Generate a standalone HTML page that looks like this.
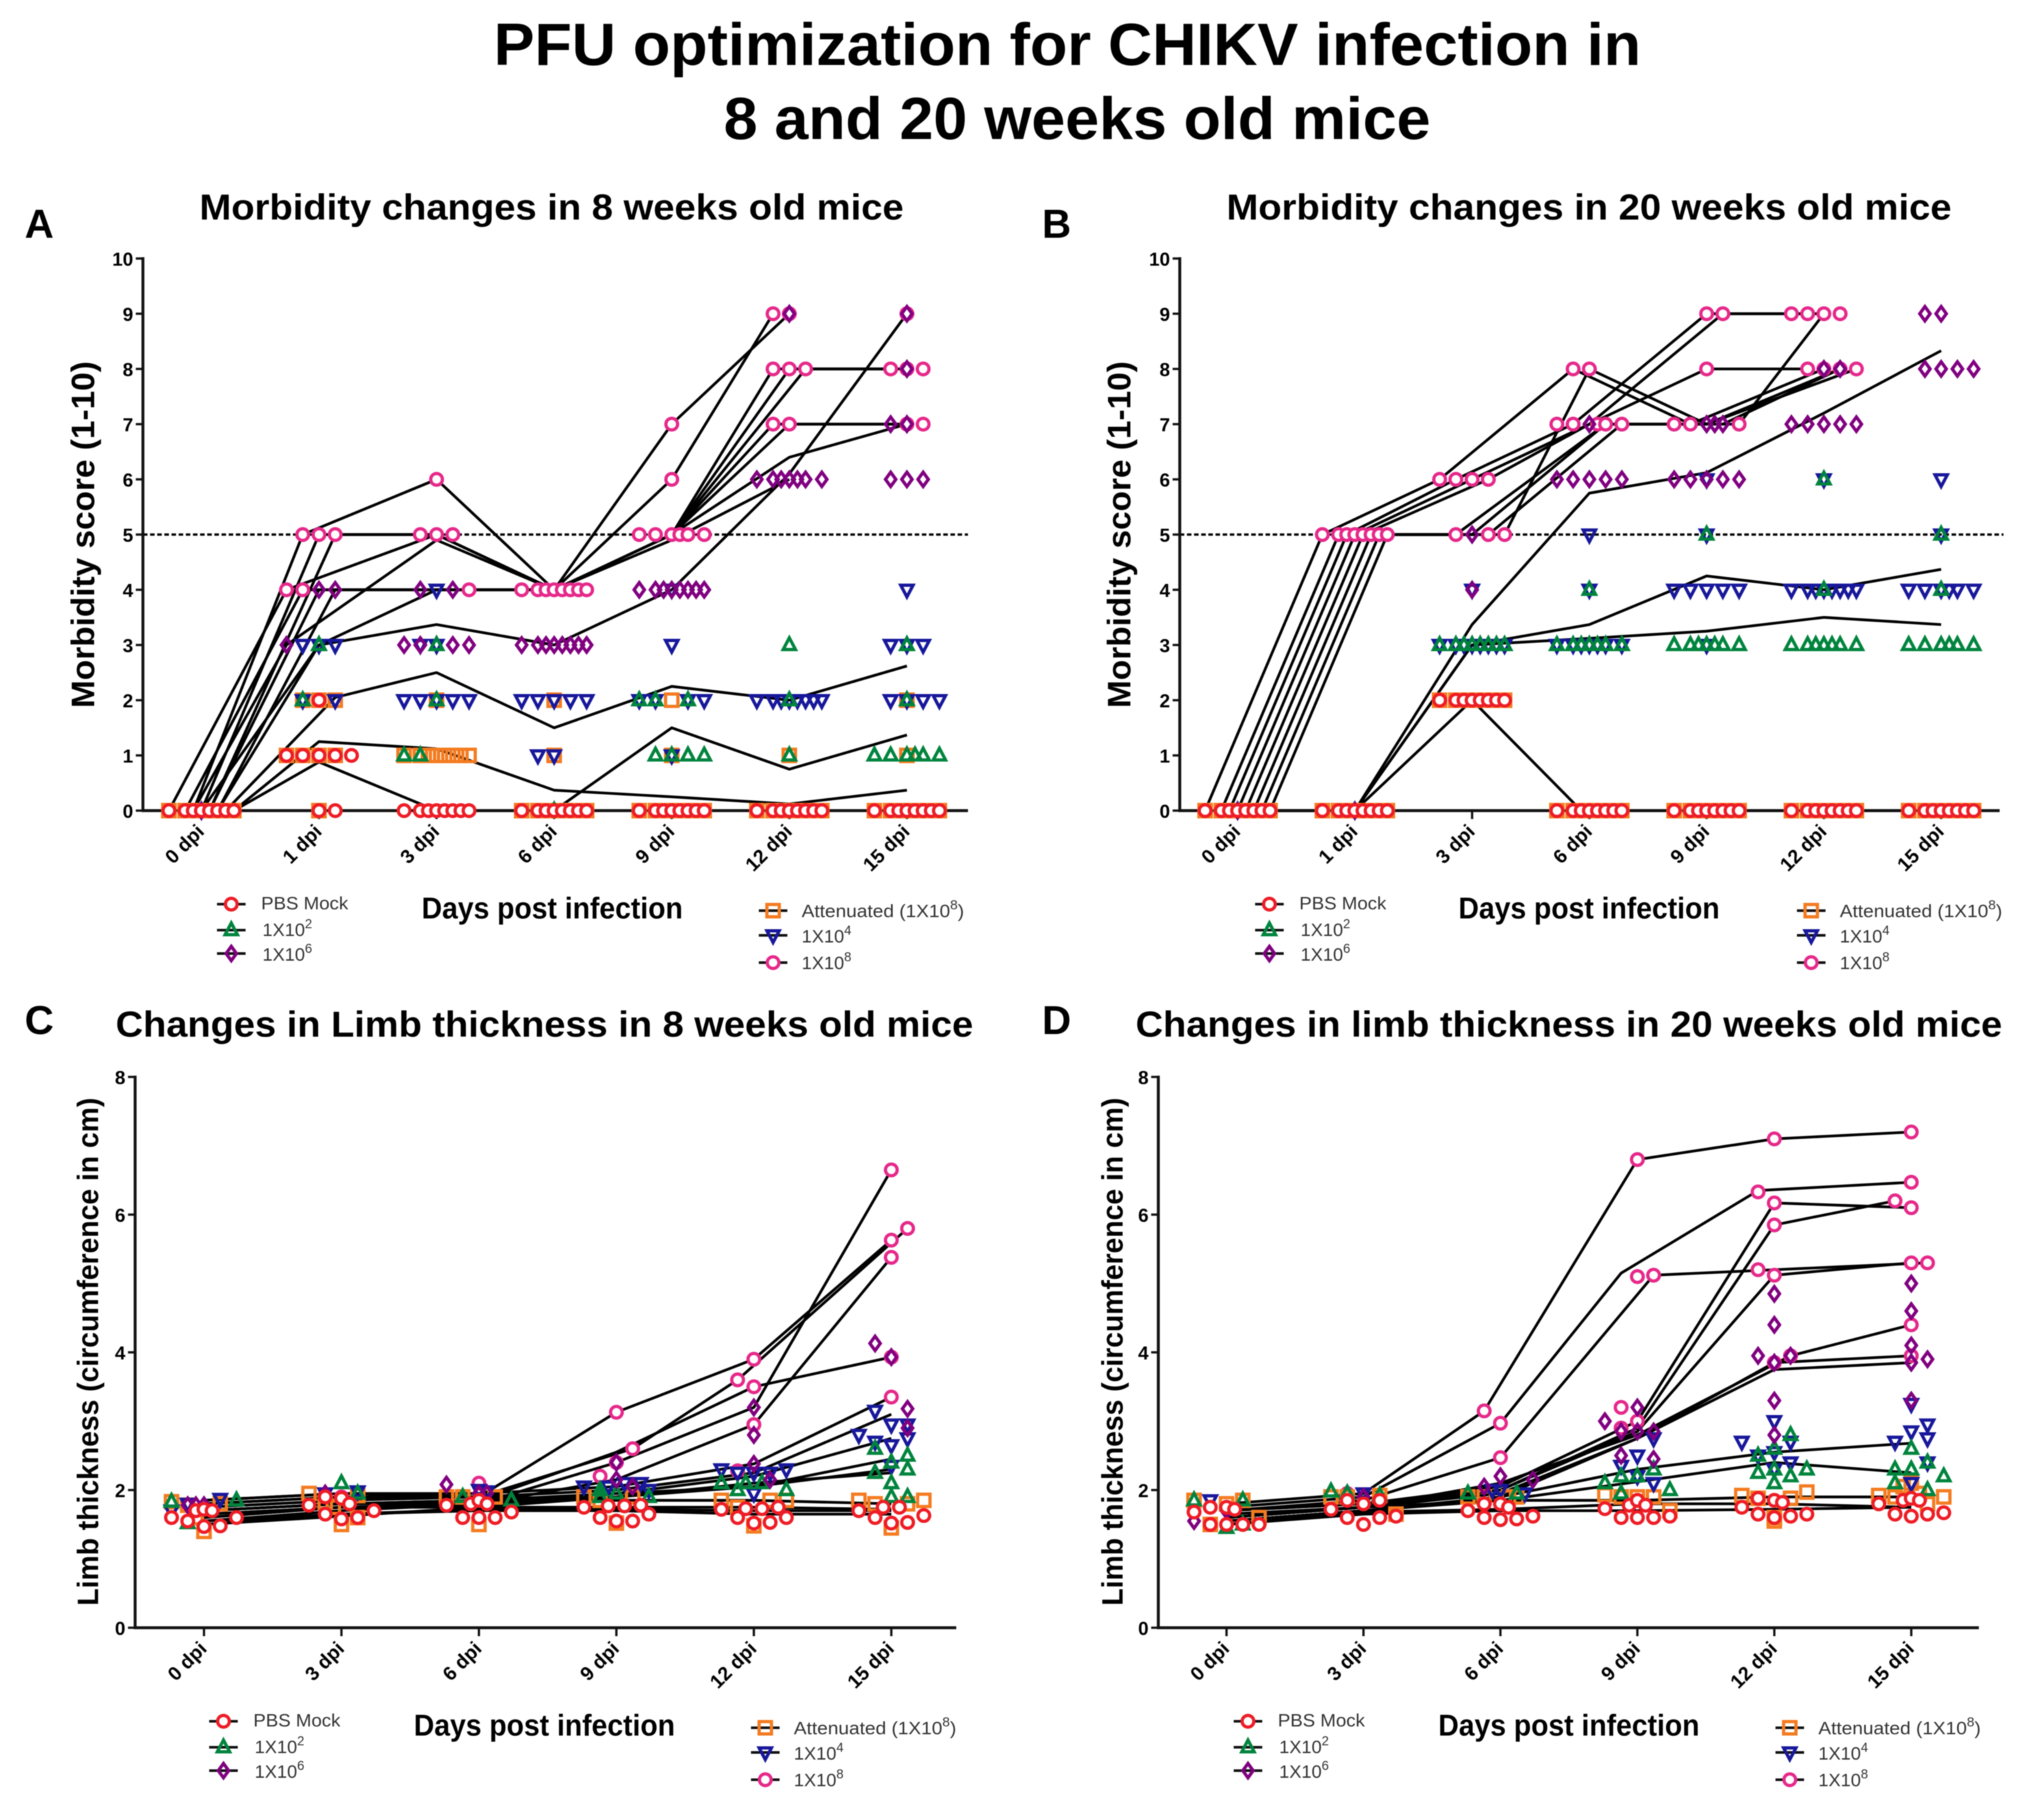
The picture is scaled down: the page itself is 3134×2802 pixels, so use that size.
<!DOCTYPE html>
<html lang="en">
<head>
<meta charset="utf-8">
<title>PFU optimization for CHIKV infection</title>
<style>
html,body{margin:0;padding:0;background:#fff;}
svg{display:block;filter:blur(0.8px);font-family:"Liberation Sans",sans-serif;}
.main{font-weight:700;font-size:92px;fill:#000;}
.sub{font-weight:700;font-size:56px;fill:#000;}
.letter{font-weight:700;font-size:62px;fill:#000;}
.ytitle{font-weight:700;font-size:50px;fill:#000;}
.xtitle{font-weight:700;font-size:46px;fill:#000;}
.leg{font-size:28px;fill:#333;}
.sup{font-size:20px;}
</style>
</head>
<body>
<svg id="figure" xmlns="http://www.w3.org/2000/svg" width="3134" height="2802" viewBox="0 0 3134 2802">
<defs>
<g id="mk-circle"><line x1="-22" x2="22" y1="0" y2="0" stroke="#111" stroke-width="4"/><circle r="9" fill="#fff" stroke="#EE1C25" stroke-width="5"/></g>
<g id="mk-tri"><line x1="-22" x2="22" y1="0" y2="0" stroke="#111" stroke-width="4"/><polygon points="0,-11 9.5,7 -9.5,7" fill="none" stroke="#00843D" stroke-width="5"/></g>
<g id="mk-diamond"><line x1="-22" x2="22" y1="0" y2="0" stroke="#111" stroke-width="4"/><polygon points="0,-11 8,0 0,11 -8,0" fill="none" stroke="#800080" stroke-width="5"/></g>
<g id="mk-square"><line x1="-22" x2="22" y1="0" y2="0" stroke="#111" stroke-width="4"/><rect x="-9.5" y="-9.5" width="19" height="19" fill="none" stroke="#F47B20" stroke-width="5"/></g>
<g id="mk-inv"><line x1="-22" x2="22" y1="0" y2="0" stroke="#111" stroke-width="4"/><polygon points="0,11 9.5,-7 -9.5,-7" fill="none" stroke="#17179B" stroke-width="5"/></g>
<g id="mk-pink"><line x1="-22" x2="22" y1="0" y2="0" stroke="#111" stroke-width="4"/><circle r="9" fill="#fff" stroke="#E6288A" stroke-width="5"/></g>
</defs>

<text class="main" x="760" y="100" textLength="1766" lengthAdjust="spacingAndGlyphs">PFU optimization for CHIKV infection in</text>
<text class="main" x="1114" y="214" textLength="1088" lengthAdjust="spacingAndGlyphs">8 and 20 weeks old mice</text>

<text class="letter" x="38" y="366">A</text>
<text class="letter" x="1604" y="366">B</text>
<text class="letter" x="38" y="1592">C</text>
<text class="letter" x="1604" y="1592">D</text>

<text class="sub" x="307" y="338" textLength="1084" lengthAdjust="spacingAndGlyphs">Morbidity changes in 8 weeks old mice</text>
<text class="sub" x="1888" y="338" textLength="1116" lengthAdjust="spacingAndGlyphs">Morbidity changes in 20 weeks old mice</text>
<text class="sub" x="178" y="1596" textLength="1320" lengthAdjust="spacingAndGlyphs">Changes in Limb thickness in 8 weeks old mice</text>
<text class="sub" x="1748" y="1596" textLength="1334" lengthAdjust="spacingAndGlyphs">Changes in limb thickness in 20 weeks old mice</text>

<text class="ytitle" transform="translate(145,1090) rotate(-90)" textLength="534" lengthAdjust="spacingAndGlyphs">Morbidity score (1-10)</text>
<text class="ytitle" transform="translate(1740,1090) rotate(-90)" textLength="534" lengthAdjust="spacingAndGlyphs">Morbidity score (1-10)</text>
<text class="ytitle" style="font-size:45px" transform="translate(151,2472) rotate(-90)" textLength="782" lengthAdjust="spacingAndGlyphs">Limb thickness (circumference in cm)</text>
<text class="ytitle" style="font-size:45px" transform="translate(1728,2472) rotate(-90)" textLength="782" lengthAdjust="spacingAndGlyphs">Limb thickness (circumference in cm)</text>

<text class="xtitle" x="649" y="1414" textLength="402" lengthAdjust="spacingAndGlyphs">Days post infection</text>
<text class="xtitle" x="2245" y="1414" textLength="402" lengthAdjust="spacingAndGlyphs">Days post infection</text>
<text class="xtitle" x="637" y="2672" textLength="402" lengthAdjust="spacingAndGlyphs">Days post infection</text>
<text class="xtitle" x="2214" y="2672" textLength="402" lengthAdjust="spacingAndGlyphs">Days post infection</text>

<g>
<g><use href="#mk-circle" x="356" y="1392"/><text class="leg" x="402" y="1400" textLength="134" lengthAdjust="spacingAndGlyphs">PBS Mock</text></g>
<g><use href="#mk-tri" x="356" y="1432"/><text class="leg" x="404" y="1441">1X10<tspan class="sup" dy="-12">2</tspan></text></g>
<g><use href="#mk-diamond" x="356" y="1468"/><text class="leg" x="404" y="1479">1X10<tspan class="sup" dy="-12">6</tspan></text></g>
<g><use href="#mk-square" x="1190" y="1402"/><text class="leg" x="1234" y="1412" textLength="250" lengthAdjust="spacingAndGlyphs">Attenuated (1X10<tspan class="sup" dy="-12">8</tspan><tspan dy="12">)</tspan></text></g>
<g><use href="#mk-inv" x="1190" y="1440"/><text class="leg" x="1234" y="1451">1X10<tspan class="sup" dy="-12">4</tspan></text></g>
<g><use href="#mk-pink" x="1190" y="1482"/><text class="leg" x="1234" y="1492">1X10<tspan class="sup" dy="-12">8</tspan></text></g>
</g>
<g transform="translate(1598,0)">
<g><use href="#mk-circle" x="356" y="1392"/><text class="leg" x="402" y="1400" textLength="134" lengthAdjust="spacingAndGlyphs">PBS Mock</text></g>
<g><use href="#mk-tri" x="356" y="1432"/><text class="leg" x="404" y="1441">1X10<tspan class="sup" dy="-12">2</tspan></text></g>
<g><use href="#mk-diamond" x="356" y="1468"/><text class="leg" x="404" y="1479">1X10<tspan class="sup" dy="-12">6</tspan></text></g>
<g><use href="#mk-square" x="1190" y="1402"/><text class="leg" x="1234" y="1412" textLength="250" lengthAdjust="spacingAndGlyphs">Attenuated (1X10<tspan class="sup" dy="-12">8</tspan><tspan dy="12">)</tspan></text></g>
<g><use href="#mk-inv" x="1190" y="1440"/><text class="leg" x="1234" y="1451">1X10<tspan class="sup" dy="-12">4</tspan></text></g>
<g><use href="#mk-pink" x="1190" y="1482"/><text class="leg" x="1234" y="1492">1X10<tspan class="sup" dy="-12">8</tspan></text></g>
</g>
<g transform="translate(-12,1258)">
<g><use href="#mk-circle" x="356" y="1392"/><text class="leg" x="402" y="1400" textLength="134" lengthAdjust="spacingAndGlyphs">PBS Mock</text></g>
<g><use href="#mk-tri" x="356" y="1432"/><text class="leg" x="404" y="1441">1X10<tspan class="sup" dy="-12">2</tspan></text></g>
<g><use href="#mk-diamond" x="356" y="1468"/><text class="leg" x="404" y="1479">1X10<tspan class="sup" dy="-12">6</tspan></text></g>
<g><use href="#mk-square" x="1190" y="1402"/><text class="leg" x="1234" y="1412" textLength="250" lengthAdjust="spacingAndGlyphs">Attenuated (1X10<tspan class="sup" dy="-12">8</tspan><tspan dy="12">)</tspan></text></g>
<g><use href="#mk-inv" x="1190" y="1440"/><text class="leg" x="1234" y="1451">1X10<tspan class="sup" dy="-12">4</tspan></text></g>
<g><use href="#mk-pink" x="1190" y="1482"/><text class="leg" x="1234" y="1492">1X10<tspan class="sup" dy="-12">8</tspan></text></g>
</g>
<g transform="translate(1565,1258)">
<g><use href="#mk-circle" x="356" y="1392"/><text class="leg" x="402" y="1400" textLength="134" lengthAdjust="spacingAndGlyphs">PBS Mock</text></g>
<g><use href="#mk-tri" x="356" y="1432"/><text class="leg" x="404" y="1441">1X10<tspan class="sup" dy="-12">2</tspan></text></g>
<g><use href="#mk-diamond" x="356" y="1468"/><text class="leg" x="404" y="1479">1X10<tspan class="sup" dy="-12">6</tspan></text></g>
<g><use href="#mk-square" x="1190" y="1402"/><text class="leg" x="1234" y="1412" textLength="250" lengthAdjust="spacingAndGlyphs">Attenuated (1X10<tspan class="sup" dy="-12">8</tspan><tspan dy="12">)</tspan></text></g>
<g><use href="#mk-inv" x="1190" y="1440"/><text class="leg" x="1234" y="1451">1X10<tspan class="sup" dy="-12">4</tspan></text></g>
<g><use href="#mk-pink" x="1190" y="1482"/><text class="leg" x="1234" y="1492">1X10<tspan class="sup" dy="-12">8</tspan></text></g>
</g>
</svg>

<script>
/* ---------- tick labels ---------- */
const morbidityDays = ['0 dpi','1 dpi','3 dpi','6 dpi','9 dpi','12 dpi','15 dpi'];
const limbDays = ['0 dpi','3 dpi','6 dpi','9 dpi','12 dpi','15 dpi'];
const morbidityTicks = [0,1,2,3,4,5,6,7,8,9,10];
const limbTicks = [0,2,4,6,8];
const thresholdScore = 5;

/* ---------- data: one entry per day; each row = [value, jitter column...] ---------- */
const A_mock = [
 [[0,-2,-1,-.5,0,.5,1,1.5,2]],
 [[0,0,1],[1,-2,-1,0,1,2],[2,0]],
 [[0,-2,-1,-.5,0,.5,1,1.5,2]],
 [[0,-2,-1,-.5,0,.5,1,1.5,2]],
 [[0,-2,-1,-.5,0,.5,1,1.5,2]],
 [[0,-2,-1,-.5,0,.5,1,1.5,2]],
 [[0,-2,-1,-.5,0,.5,1,1.5,2]]];
const A_attenuated = [
 [[0,-2,-1,-.5,0,.5,1,1.5,2]],
 [[0,0],[1,-2,-1,0,1],[2,-1,0,1]],
 [[1,-2,-1,-.5,0,.5,1,1.5,2],[2,0]],
 [[0,-2,-1,0,1,2],[1,0],[2,0]],
 [[0,-2,-1,0,1,2],[2,0],[1,0]],
 [[0,-2,-1,-.5,0,.5,1,1.5,2],[1,0]],
 [[0,-2,-1,0,1,2],[1,0],[2,0]]];
const A_1e2 = [
 [[0,0]],
 [[3,0],[2,-1]],
 [[3,0],[2,0],[1,-2,-1]],
 [[0,0]],
 [[2,-2,-1,1],[1,-1,0,1,2]],
 [[3,0],[2,0],[1,0]],
 [[3,0],[1,-2,-1,0,.5,1,2],[2,0]]];
const A_1e4 = [
 [[0,0]],
 [[3,-1,0,1],[2,-1,1]],
 [[4,0],[3,-1,0],[2,-2,-1,0,1,2]],
 [[2,-2,-1,0,1,2],[1,-1,0]],
 [[4,0],[3,0],[2,-2,-1,1,2],[1,0]],
 [[2,-2,-1,-.5,0,.5,1,1.5,2]],
 [[4,0],[3,-1,0,1],[2,-1,0,1,2]]];
const A_1e6 = [
 [[0,0]],
 [[4,0,1],[3,-2]],
 [[4,-1,1],[3,-2,-1,1,2]],
 [[3,-2,-1,-.5,0,.5,1,1.5,2]],
 [[4,-2,-1,-.5,0,.5,1,1.5,2]],
 [[9,0],[6,-2,-1,-.5,0,.5,1,2]],
 [[9,0],[8,0],[7,-1,0],[6,-1,0,1]]];
const A_1e8 = [
 [[0,0]],
 [[5,-1,0,1],[4,-2,-1]],
 [[6,0],[5,-1,0,1],[4,2]],
 [[4,-2,-1,-.5,0,.5,1,1.5,2]],
 [[7,0],[6,0],[5,-2,-1,0,.5,1,2]],
 [[9,-1,0],[8,-1,0,1],[7,-1,0]],
 [[9,0],[8,-1,0,1],[7,0,1]]];
/* connecting lines: values per day, with the jitter column at each day */
const A_lineValues = [
 [0,.88,0,0,1.5,.75,1.37],
 [0,1.25,1.12,.37,.25,.12,.37],
 [0,2.05,2.5,1.5,2.25,2,2.62],
 [0,3,3.37,3,4,6.1,9],
 [0,5,6,4,7,9,null],
 [0,5,5,4,6,9,null],
 [0,5,5,4,5,8,8],
 [0,4,5,4,5,8,8],
 [0,4,4,4,5,8,8],
 [0,4,4,4,5,7,7],
 [0,4,4,4,5,7,7],
 [0,3,4.9,4,5,6.4,7],
 [0,3,4,4,4.9,6,null]];
const A_lineSlots = [
 [2,0,0,0,0,0,0],[2,0,0,0,0,0,0],[1.5,1,0,0,0,0,0],[1,0,0,0,0,0,0],
 [-.5,-1,0,0,0,0,0],[0,0,0,0,0,-1,0],[.5,1,0,0,0,-1,-1],[-2,-2,0,0,0,0,-1],
 [-1,-1,0,0,0,1,0],[.5,0,0,0,0,-1,0],[1,1,0,0,0,0,0],[-.5,-2,0,0,0,0,0],[0,0,0,0,0,0,0]];

const B_mock = [
 [[0,-2,-1,-.5,0,.5,1,1.5,2]],
 [[0,-2,-1,-.5,0,.5,1,1.5,2]],
 [[2,-2,-1,-.5,0,.5,1,1.5,2]],
 [[0,-2,-1,-.5,0,.5,1,1.5,2]],
 [[0,-2,-1,-.5,0,.5,1,1.5,2]],
 [[0,-2,-1,-.5,0,.5,1,1.5,2]],
 [[0,-2,-1,-.5,0,.5,1,1.5,2]]];
const B_attenuated = [
 [[0,-2,-1,-.5,0,.5,1,1.5,2]],
 [[0,-2,-1,-.5,0,.5,1,1.5,2]],
 [[2,-2,-1,-.5,0,.5,1,1.5,2]],
 [[0,-2,-1,-.5,0,.5,1,1.5,2]],
 [[0,-2,-1,-.5,0,.5,1,1.5,2]],
 [[0,-2,-1,-.5,0,.5,1,1.5,2]],
 [[0,-2,-1,-.5,0,.5,1,1.5,2]]];
const B_1e2 = [
 [[0,0]],
 [[0,0]],
 [[3,-2,-1,-.5,0,.5,1,1.5,2]],
 [[4,0],[3,-2,-1,-.5,0,.5,1,2]],
 [[5,0],[3,-2,-1,-.5,0,.5,1,2]],
 [[6,0],[4,0],[3,-2,-1,-.5,0,.5,1,2]],
 [[5,0],[4,0],[3,-2,-1,0,.5,1,2]]];
const B_1e4 = [
 [[0,0]],
 [[0,0]],
 [[4,0],[3,-2,-1,-.5,0,.5,1,1.5,2]],
 [[5,0],[4,0],[3,-2,-1,-.5,0,.5,1,2]],
 [[6,0],[5,0],[4,-2,-1,0,1,2],[3,0]],
 [[6,0],[4,-2,-1,-.5,0,.5,1,1.5,2]],
 [[6,0],[5,0],[4,-2,-1,0,.5,1,2]]];
const B_1e6 = [
 [[0,0]],
 [[0,0]],
 [[5,0],[4,0]],
 [[7,0],[6,-2,-1,0,1,2]],
 [[7,0,.5,1],[6,-2,-1,0,1,2]],
 [[8,0,1],[7,-2,-1,0,1,2]],
 [[9,-1,0],[8,-1,0,1,2]]];
const B_1e8 = [
 [[0,0]],
 [[5,-2,-1,-.5,0,.5,1,1.5,2]],
 [[6,-2,-1,0,1],[5,-1,1,2]],
 [[8,-1,0],[7,-2,-1,.5,1,2]],
 [[9,0,1],[8,0],[7,-2,-1,2]],
 [[9,-2,-1,0,1],[8,-1,0,1,2]],
 [[0,0]]];
const B_lineValues = [
 [0,5,6,8,7,8,null],
 [0,5,5,8,7,8,null],
 [0,5,6,7,9,9,null],
 [0,5,6,7,9,9,null],
 [0,5,6,7,8,8,null],
 [0,5,5,7,7,9,null],
 [0,5,5,7,7,8,null],
 [0,5,5,7,7,8,null],
 [0,0,3.37,5.75,6.12,7.2,8.33],
 [0,0,3,3.37,4.25,4,4.37],
 [0,0,3,3.12,3.25,3.5,3.37],
 [0,0,2,0,0,0,0]];
const B_lineSlots = [
 [-2,-2,-2,-1,-1,0,0],
 [-1,-1,2,0,0,1,0],
 [-.5,-.5,-1,-1,0,-1,0],
 [0,0,0,0,1,0,0],
 [.5,.5,1,0,0,-1,0],
 [1,1,-1,1,2,0,0],
 [1.5,1.5,0,1,1,1,0],
 [2,2,1,2,0,2,0],
 [0,0,0,0,0,0,0],[0,0,0,0,0,0,0],[0,0,0,0,0,0,0],[0,0,0,-.5,0,0,0]];

const C_mock = [
 [[1.6,-2],[1.55,-1],[1.7,-.5],[1.47,0],[1.72,0],[1.7,.5],[1.48,1],[1.6,2]],
 [[1.78,-2],[1.65,-1],[1.9,-1],[1.58,0],[1.88,0],[1.8,.5],[1.6,1],[1.7,2]],
 [[1.78,-2],[1.6,-1],[1.8,-.5],[1.6,0],[1.85,0],[1.8,.5],[1.6,1],[1.68,2]],
 [[1.75,-2],[1.6,-1],[1.77,-.5],[1.55,0],[1.77,.5],[1.55,1],[1.78,1.5],[1.65,2]],
 [[1.72,-2],[1.6,-1],[1.73,-.5],[1.52,0],[1.73,.5],[1.53,1],[1.75,1.5],[1.6,2]],
 [[1.7,-2],[1.6,-1],[1.75,-.5],[1.52,0],[1.75,.5],[1.53,1],[1.63,2]]];
const C_attenuated = [
 [[1.83,-2],[1.78,-1],[1.6,-.5],[1.4,0],[1.8,1]],
 [[1.95,-2],[1.82,-1],[1.75,-.5],[1.5,0],[1.92,1],[1.6,1]],
 [[1.9,-2],[1.9,-1],[1.5,0],[1.9,1]],
 [[1.9,-2],[1.85,-1],[1.52,0],[1.9,1]],
 [[1.85,-2],[1.75,-1],[1.48,0],[1.85,1],[1.85,2]],
 [[1.85,-2],[1.8,-1],[1.45,0],[1.8,1],[1.85,2]]];
const C_1e2 = [
 [[1.83,-2],[1.52,-1],[1.85,2]],
 [[2.1,0],[1.95,1]],
 [[1.9,-1],[1.85,2]],
 [[2,-1],[1.9,-1],[1.95,0],[1.9,2]],
 [[2.1,-2],[2,-1],[2.1,-.5],[2.1,.5],[2,2]],
 [[2.6,-1],[2.25,-1],[2.4,0],[2.1,0],[1.9,0],[2.3,1],[2.5,1],[1.9,1]]];
const C_1e4 = [
 [[1.8,-1],[1.87,1],[1.7,-2]],
 [[1.95,-1],[1.98,1]],
 [[2,0],[1.98,.5]],
 [[2.05,-2],[2.05,-.5],[2.1,.5],[2.1,1.5],[2,2]],
 [[2.3,-2],[2.25,-1],[2.25,0],[2.25,1],[2.3,2],[1.95,0]],
 [[3.15,-1],[2.8,-2],[2.7,-1],[2.95,0],[2.65,0],[2.95,1],[2.75,1],[2.35,0]]];
const C_1e6 = [
 [[1.78,-1],[1.78,-.5],[1.78,0]],
 [[1.95,-1]],
 [[2.08,-2],[1.95,0],[1.95,.5]],
 [[2.4,0],[2.15,0],[2.05,1]],
 [[3.2,0],[2.8,0],[2.38,0],[2.15,1]],
 [[4.13,-1],[3.93,0],[3.18,1],[2.9,1]]];
const C_1e8 = [
 [],
 [[1.9,0]],
 [[2.1,0]],
 [[3.13,0],[2.6,1],[2.2,-1],[2.4,0]],
 [[3.9,0],[3.6,-1],[3.5,0],[2.95,0],[2.28,-1]],
 [[6.65,0],[5.8,1],[5.63,0],[5.38,0],[3.93,0],[3.35,0]]];
const C_lineValues = [
 [1.8,1.9,1.9,3.13,3.9,5.63],
 [1.75,1.85,1.9,2.6,3.6,5.8],
 [1.7,1.8,1.85,2.55,3.5,3.93],
 [1.7,1.8,1.8,2.4,3.2,6.65],
 [1.65,1.75,1.8,2.15,2.95,5.38],
 [1.85,1.95,1.95,2.05,2.38,3.35],
 [1.8,1.9,1.9,2,2.25,3.1],
 [1.7,1.8,1.85,1.95,2.2,2.75],
 [1.6,1.75,1.8,1.95,2.05,2.45],
 [1.55,1.7,1.8,1.9,2.05,2.3],
 [1.6,1.75,1.75,1.9,2.1,2.25],
 [1.85,1.95,1.9,1.85,1.85,1.8],
 [1.5,1.65,1.72,1.72,1.7,1.7],
 [1.5,1.62,1.75,1.75,1.75,1.72],
 [1.55,1.65,1.7,1.7,1.65,1.65]];
const C_lineSlots = [
 [],[0,0,0,1,-1,1],[],[],[],[],[],[],[],[],[],[],[],[],[]];

const D_mock = [
 [[1.68,-2],[1.75,-1],[1.5,-1],[1.5,0],[1.75,0],[1.72,.5],[1.5,1],[1.5,2]],
 [[1.72,-2],[1.6,-1],[1.85,-1],[1.5,0],[1.8,0],[1.6,1],[1.85,1],[1.62,2]],
 [[1.7,-2],[1.6,-1],[1.8,-1],[1.57,0],[1.8,0],[1.75,.5],[1.58,1],[1.62,2]],
 [[1.73,-2],[1.6,-1],[1.78,-.5],[1.6,0],[1.85,0],[1.78,.5],[1.6,1],[1.62,2]],
 [[1.75,-2],[1.65,-1],[1.88,-1],[1.6,0],[1.85,0],[1.82,.5],[1.62,1],[1.65,2]],
 [[1.8,-2],[1.65,-1],[1.85,-.5],[1.62,0],[1.88,0],[1.85,.5],[1.65,1],[1.67,2]]];
const D_attenuated = [
 [[1.85,-2],[1.5,-1],[1.8,0],[1.85,1],[1.6,2]],
 [[1.9,-2],[1.9,-1],[1.92,1],[1.65,2]],
 [[1.9,-2],[1.9,-1],[1.9,.5],[1.9,1]],
 [[1.93,-2],[1.9,-1],[1.9,0],[1.9,1],[1.7,2]],
 [[1.92,-2],[1.88,-1],[1.6,0],[1.55,0],[1.88,1],[1.97,2]],
 [[1.92,-2],[1.9,-1],[2.05,-.5],[2.1,0],[1.95,.5],[1.8,1],[1.9,2]]];
const D_1e2 = [
 [[1.85,-2],[1.45,0],[1.85,1],[1.5,1]],
 [[1.98,-2],[1.95,-1],[1.92,1]],
 [[1.95,-2],[1.95,1]],
 [[2.1,-2],[2.2,-1],[1.95,-1],[2.2,0],[2.3,1],[2,2]],
 [[2.25,-1],[2.5,-1],[2.6,0],[2.3,0],[2.1,0],[2.8,1],[2.2,1],[2.3,2]],
 [[2.3,-1],[2.1,-1],[2.6,0],[2.3,0],[2.4,1],[2,1],[2.2,2]]];
const D_1e4 = [
 [[1.85,-1]],
 [[1.95,0]],
 [[2,-.5],[2,0],[1.95,1.5]],
 [[2.35,-1],[2.5,0],[2.2,0],[2.75,1],[2.1,1]],
 [[2.7,-2],[2.5,-1],[3,0],[2.55,0],[2.3,0],[2.7,1],[2.4,1]],
 [[2.7,-1],[3.25,0],[2.85,0],[2.1,0],[2.95,1],[2.75,1],[2.4,1]]];
const D_1e6 = [
 [[1.55,-2],[1.7,0]],
 [[1.9,0]],
 [[2.05,-1],[2.2,0],[2.15,2]],
 [[3,-2],[2.85,-1],[2.5,-1],[3.2,0],[2.85,0],[2.45,1],[2.85,1]],
 [[3.95,-1],[4.85,0],[4.4,0],[3.85,0],[3.3,0],[2.8,0],[3.95,1]],
 [[5,0],[4.6,0],[4.1,0],[3.85,0],[3.3,0],[3.9,1]]];
const D_1e8 = [
 [],
 [[1.95,-1]],
 [[3.15,-1],[2.97,0],[2.47,0]],
 [[6.8,0],[5.1,0],[5.12,1],[3.2,-1],[3,0],[2.9,-1]],
 [[7.1,0],[6.33,-1],[6.17,0],[5.85,0],[5.2,-1],[5.12,0],[3.85,0],[3.95,1]],
 [[7.2,0],[6.47,0],[6.2,-1],[6.1,0],[5.3,0],[5.3,1],[4.4,0],[3.95,0]]];
const D_lineValues = [
 [1.8,1.95,3.15,6.8,7.1,7.2],
 [1.75,1.9,2.97,5.15,6.35,6.47],
 [1.7,1.85,2.47,5.12,5.2,5.3],
 [1.7,1.8,2.05,3,6.17,6.1],
 [1.7,1.8,2,2.9,5.85,6.2],
 [1.65,1.75,2,2.85,5.12,5.3],
 [1.6,1.75,2.1,2.8,3.95,4.4],
 [1.6,1.75,1.95,2.75,3.85,3.95],
 [1.55,1.7,1.9,2.75,3.75,3.85],
 [1.55,1.7,1.9,2.3,2.55,2.68],
 [1.55,1.7,1.85,2.12,2.4,2.25],
 [1.6,1.75,1.85,1.85,1.9,1.9],
 [1.5,1.68,1.72,1.8,1.8,1.75],
 [1.5,1.65,1.7,1.7,1.72,1.75]];
const D_lineSlots = [
 [0,0,-1,0,0,0],[0,0,0,-1,-1,0],[0,0,0,1,0,1],[],[0,0,0,0,0,-1],[],[0,0,0,0,1,0],[],[],[],[],[],[],[]];

/* ---------- rendering ---------- */
const NS = 'http://www.w3.org/2000/svg';
const svg = document.getElementById('figure');
const COLUMN_WIDTH = 25;

function make(parent, tag, attrs, name) {
  const el = document.createElementNS(NS, tag);
  for (const k in attrs) el.setAttribute(k, attrs[k]);
  
  
  parent.appendChild(el);
  return el;
}

function drawMarker(parent, kind, x, y, name) {
  if (kind === 'mock') {
    make(parent, 'circle', {cx:x, cy:y, r:9, fill:'#fff', stroke:'#EE1C25', 'stroke-width':5}, name);
  } else if (kind === 'pink') {
    make(parent, 'circle', {cx:x, cy:y, r:9, fill:'#fff', stroke:'#E6288A', 'stroke-width':5}, name);
  } else if (kind === 'square') {
    make(parent, 'rect', {x:x-9.5, y:y-9.5, width:19, height:19, fill:'none', stroke:'#F47B20', 'stroke-width':5}, name);
  } else if (kind === 'tri') {
    make(parent, 'polygon', {points:(x)+','+(y-11)+' '+(x+9.5)+','+(y+7)+' '+(x-9.5)+','+(y+7), fill:'none', stroke:'#00843D', 'stroke-width':5}, name);
  } else if (kind === 'inv') {
    make(parent, 'polygon', {points:(x)+','+(y+11)+' '+(x+9.5)+','+(y-7)+' '+(x-9.5)+','+(y-7), fill:'none', stroke:'#17179B', 'stroke-width':5}, name);
  } else {
    make(parent, 'polygon', {points:(x)+','+(y-11)+' '+(x+8)+','+(y)+' '+(x)+','+(y+11)+' '+(x-8)+','+(y), fill:'none', stroke:'#800080', 'stroke-width':5}, name);
  }
}

function drawPanel(p) {
  const g = make(svg, 'g', {}, 'panel-' + p.id);
  const xTick = function (day) { return p.firstTick + day * p.tickStep; };
  const xPos = function (day, slot) { return xTick(day) + (slot || 0) * COLUMN_WIDTH; };
  const yPos = function (v) { return p.yBottom - (v / p.yMax) * (p.yBottom - p.yTop); };

  /* threshold */
  if (p.threshold !== undefined) {
    make(g, 'line', {x1:p.axisX, x2:p.dashEnd, y1:yPos(p.threshold), y2:yPos(p.threshold), stroke:'#000', 'stroke-width':3.5, 'stroke-dasharray':'7 4'}, 'threshold-line');
  }

  /* connecting lines */
  const lines = make(g, 'g', {}, 'connecting-lines');
  p.lineValues.forEach(function (vals, i) {
    const slots = p.lineSlots[i] || [];
    const pts = [];
    vals.forEach(function (v, d) {
      if (v !== null) pts.push(xPos(d, slots[d]) + ',' + yPos(v));
    });
    make(lines, 'polyline', {points:pts.join(' '), fill:'none', stroke:'#000', 'stroke-width':4.2, 'stroke-linejoin':'round'}, 'mouse-line-' + (i + 1));
  });

  /* axes */
  make(g, 'line', {x1:p.axisX, x2:p.axisX, y1:p.yTop-2, y2:p.yBottom+2, stroke:'#111', 'stroke-width':4.5}, 'y-axis');
  make(g, 'line', {x1:p.axisX-2, x2:p.axisEnd, y1:p.yBottom, y2:p.yBottom, stroke:'#111', 'stroke-width':4.5}, 'x-axis');
  p.yTicks.forEach(function (t) {
    make(g, 'line', {x1:p.axisX-11, x2:p.axisX, y1:yPos(t), y2:yPos(t), stroke:'#111', 'stroke-width':3.5}, 'y-tick');
    const lab = make(g, 'text', {x:p.axisX-15, y:yPos(t)+11, 'text-anchor':'end', 'font-size':29, 'font-weight':700, fill:'#000'}, 'y-tick-label');
    lab.textContent = t;
  });
  p.days.forEach(function (label, d) {
    make(g, 'line', {x1:xTick(d), x2:xTick(d), y1:p.yBottom, y2:p.yBottom+13, stroke:'#111', 'stroke-width':3.5}, 'x-tick');
    const tx = xTick(d) + 6, ty = p.yBottom + 34;
    const lab = make(g, 'text', {transform:'translate('+tx+','+ty+') rotate(-45)', 'text-anchor':'end', 'font-size':30, 'font-weight':700, fill:'#000'}, 'x-tick-label');
    lab.textContent = label;
  });

  /* markers */
  p.series.forEach(function (s) {
    const sg = make(g, 'g', {}, 'series-' + s.name);
    s.data.forEach(function (rows, d) {
      rows.forEach(function (row) {
        for (let k = 1; k < row.length; k++) {
          drawMarker(sg, s.kind, xPos(d, row[k]), yPos(row[0]), s.name + '-point');
        }
      });
    });
  });
}

function seriesFor(att, e2, e4, e6, e8, mock) {
  return [
    {name:'1x10-8', kind:'pink', data:e8},
    {name:'attenuated', kind:'square', data:att},
    {name:'1x10-4', kind:'inv', data:e4},
    {name:'1x10-2', kind:'tri', data:e2},
    {name:'1x10-6', kind:'diamond', data:e6},
    {name:'pbs-mock', kind:'mock', data:mock}
  ];
}

drawPanel({id:'a', axisX:220, axisEnd:1490, dashEnd:1490, yTop:398, yBottom:1248, yMax:10, firstTick:310, tickStep:181,
  days:morbidityDays, yTicks:morbidityTicks, threshold:thresholdScore,
  lineValues:A_lineValues, lineSlots:A_lineSlots,
  series:seriesFor(A_attenuated, A_1e2, A_1e4, A_1e6, A_1e8, A_mock)});
drawPanel({id:'b', axisX:1816, axisEnd:3078, dashEnd:3084, yTop:398, yBottom:1248, yMax:10, firstTick:1905, tickStep:180.5,
  days:morbidityDays, yTicks:morbidityTicks, threshold:thresholdScore,
  lineValues:B_lineValues, lineSlots:B_lineSlots,
  series:seriesFor(B_attenuated, B_1e2, B_1e4, B_1e6, B_1e8, B_mock)});
drawPanel({id:'c', axisX:208, axisEnd:1472, yTop:1658, yBottom:2506, yMax:8, firstTick:314, tickStep:211.6,
  days:limbDays, yTicks:limbTicks,
  lineValues:C_lineValues, lineSlots:C_lineSlots,
  series:seriesFor(C_attenuated, C_1e2, C_1e4, C_1e6, C_1e8, C_mock)});
drawPanel({id:'d', axisX:1783, axisEnd:3046, yTop:1658, yBottom:2506, yMax:8, firstTick:1888, tickStep:210.8,
  days:limbDays, yTicks:limbTicks,
  lineValues:D_lineValues, lineSlots:D_lineSlots,
  series:seriesFor(D_attenuated, D_1e2, D_1e4, D_1e6, D_1e8, D_mock)});
</script>
</body>
</html>
